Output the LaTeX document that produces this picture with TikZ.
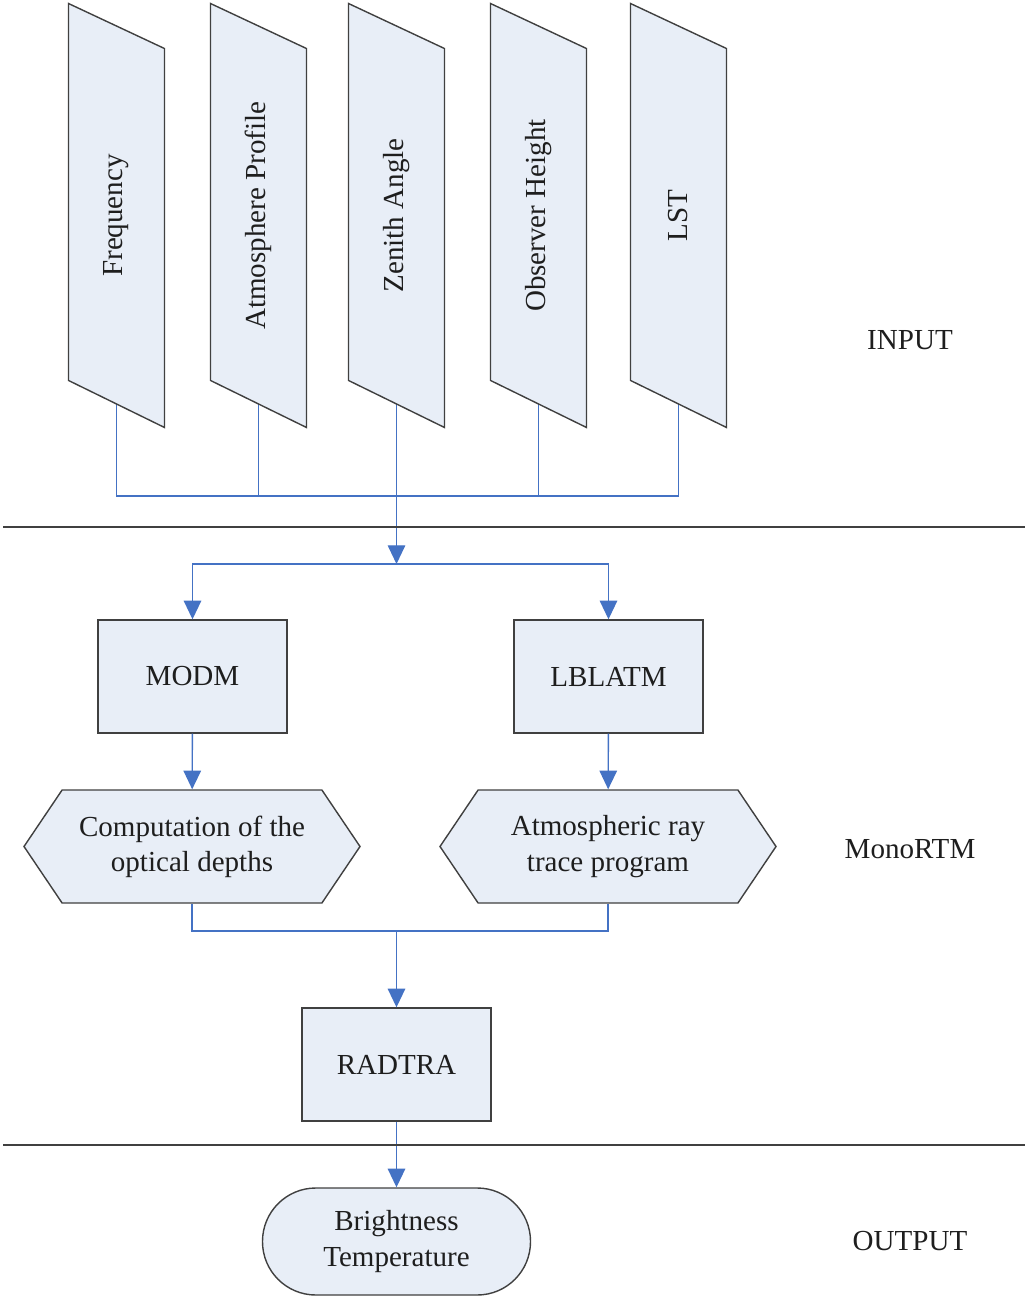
\documentclass[tikz,border=0pt]{standalone}
\usepackage{fontspec}
\usepackage{graphicx}
\setmainfont{Liberation Serif}
\usetikzlibrary{shapes.symbols,arrows.meta,backgrounds}

\definecolor{boxfill}{RGB}{232,238,247}
\definecolor{boxline}{RGB}{64,64,64}
\definecolor{linkblue}{RGB}{68,114,196}
\definecolor{txtgray}{RGB}{30,30,30}

\tikzset{
  inbox/.style={minimum width=1.425cm, minimum height=6.345cm, inner sep=0pt, text=txtgray},
  pshape/.style={fill=boxfill, draw=boxline, line width=0.6pt, line join=miter},
  proc/.style={rectangle, fill=boxfill, draw=boxline, line width=0.6pt, minimum width=2.835cm, minimum height=1.695cm, text=txtgray},
  hexa/.style={signal, signal to=west and east, signal pointer angle=112, fill=boxfill, draw=boxline, line width=0.6pt, minimum width=5.04cm, minimum height=1.695cm, align=center, text=txtgray},
  term/.style={rectangle, rounded corners=0.8cm, fill=boxfill, draw=boxline, line width=0.6pt, minimum width=4.02cm, minimum height=1.605cm, align=center, text=txtgray},
  link/.style={draw=linkblue, line width=0.6pt},
  tip/.style={-{Triangle[width=7.5pt,length=8pt]}},
  sep/.style={draw=boxline, line width=0.8pt},
  lbl/.style={text=txtgray}
}

\begin{document}
\begin{tikzpicture}[x=0.015cm, y=-0.015cm, font=\fontsize{12.4}{15}\selectfont]
\useasboundingbox (0,0) rectangle (1025,1298);

% inputs
\node[inbox] (freq) at (116.5,215.5) {\rotatebox{90}{Frequency}};
\node[inbox] (atm) at (258.5,215.5) {\rotatebox{90}{Atmosphere Profile}};
\node[inbox] (zen) at (396.5,215.5) {\rotatebox{90}{Zenith Angle}};
\node[inbox] (obs) at (538.5,215.5) {\rotatebox{90}{Observer Height}};
\node[inbox] (lst) at (678.5,215.5) {\rotatebox{90}{LST}};

\coordinate (jn) at (396.5,496);
\coordinate (sp) at (396.5,564);

% monortm
\node[proc] (modm) at (192.5,676.5) {MODM};
\node[proc] (lblatm) at (608.5,676.5) {LBLATM};
\node[hexa] (optd) at (192,846.5) {Computation of the\\optical depths};
\node[hexa] (rayt) at (608,846.5) {Atmospheric ray\\trace program};
\coordinate (mg) at (396.5,931);
\node[proc] (radtra) at (396.5,1064.5) {RADTRA};

% output
\node[term] (bright) at (396.5,1241.5) {Brightness\\Temperature};

\node[lbl] (linput) at (910,340) {INPUT};
\node[lbl] (lmono) at (910,849) {MonoRTM};
\node[lbl] (loutput) at (910,1241) {OUTPUT};

\begin{scope}[on background layer]
\draw[link] (freq.center) |- (jn);
\draw[link] (atm.center) |- (jn);
\draw[link] (obs.center) |- (jn);
\draw[link] (lst.center) |- (jn);
\draw[link,tip] (zen.center) -- (sp);
\foreach \n in {freq,atm,zen,obs,lst}
  \draw[pshape] (\n.north west) -- ([yshift=-0.675cm]\n.north east)
    -- (\n.south east) -- ([yshift=0.705cm]\n.south west) -- cycle;
\end{scope}

\draw[link,tip] (sp) -| (modm);
\draw[link,tip] (sp) -| (lblatm);
\draw[link,tip] (modm) -- (optd);
\draw[link,tip] (lblatm) -- (rayt);
\draw[link] (optd) |- (mg);
\draw[link] (rayt) |- (mg);
\draw[link,tip] (mg) -- (radtra);
\draw[link,tip] (radtra) -- (bright);

\draw[sep] (3,527) -- (1025,527);
\draw[sep] (3,1145) -- (1025,1145);

\end{tikzpicture}
\end{document}
